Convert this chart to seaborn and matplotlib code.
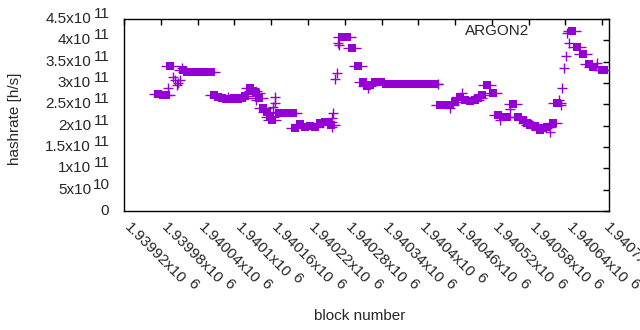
import numpy as np
import pandas as pd
import matplotlib
matplotlib.use("Agg")
import matplotlib.pyplot as plt
import seaborn as sns

# square samples: block number, hashrate in units of 1e11 h/s
sq_block = [1939975, 1939984, 1939988, 1939995, 1940016, 1940023, 1940031, 1940039,
            1940047, 1940055, 1940062, 1940067, 1940073, 1940080, 1940086, 1940093,
            1940099, 1940106, 1940113, 1940117, 1940126, 1940130, 1940135, 1940140,
            1940147, 1940153, 1940158, 1940161, 1940173, 1940181, 1940189, 1940196,
            1940199, 1940207, 1940215, 1940224, 1940232, 1940240, 1940248, 1940253,
            1940258, 1940276, 1940284, 1940292, 1940302, 1940310, 1940316, 1940321,
            1940330, 1940339, 1940348, 1940357, 1940367, 1940377, 1940387, 1940396,
            1940406, 1940416, 1940426, 1940436, 1940444, 1940452, 1940460, 1940468,
            1940476, 1940485, 1940493, 1940498, 1940504, 1940512, 1940522, 1940530,
            1940538, 1940545, 1940555, 1940563, 1940571, 1940578, 1940582, 1940591,
            1940599, 1940604, 1940610, 1940620, 1940627, 1940651, 1940659, 1940669,
            1940679, 1940685, 1940700, 1940703]
sq_rate = [2.742, 2.719, 2.719, 3.398, 3.304, 3.258, 3.258, 3.258,
           3.258, 3.258, 3.258, 2.719, 2.672, 2.648, 2.625, 2.625,
           2.648, 2.625, 2.648, 2.695, 2.883, 2.812, 2.765, 2.648,
           2.414, 2.320, 2.203, 2.133, 2.297, 2.297, 2.297, 2.297,
           1.945, 2.039, 1.969, 1.992, 1.969, 2.062, 2.086, 2.086,
           2.016, 4.078, 4.078, 3.820, 3.398, 3.023, 2.930, 2.953,
           3.023, 3.023, 2.976, 2.976, 2.976, 2.976, 2.976, 2.976,
           2.976, 2.976, 2.976, 2.484, 2.484, 2.484, 2.555, 2.672,
           2.601, 2.578, 2.601, 2.648, 2.719, 2.953, 2.765, 2.250,
           2.203, 2.203, 2.508, 2.203, 2.133, 2.062, 2.016, 1.992,
           1.898, 1.945, 1.969, 2.062, 2.531, 4.218, 3.844, 3.680,
           3.445, 3.375, 3.304, 3.304]

# plus samples
pl_block = [1939992, 1940000, 1940003, 1940006, 1940008, 1940011, 1940015, 1940090,
            1940135, 1940163, 1940166, 1940166, 1940259, 1940259, 1940261, 1940264,
            1940268, 1940269, 1940271, 1940318, 1940432, 1940452, 1940472, 1940534,
            1940550, 1940615, 1940630, 1940633, 1940635, 1940638, 1940641, 1940643,
            1940645, 1940692]
pl_rate = [2.883, 3.140, 3.070, 2.953, 3.000, 3.070, 3.351, 2.672,
           2.601, 2.437, 2.672, 2.531, 2.180, 1.969, 2.297, 3.094,
           3.234, 3.937, 3.890, 2.883, 2.976, 2.414, 2.765, 2.133,
           2.390, 1.851, 2.601, 2.484, 2.883, 3.351, 3.633, 4.172,
           3.937, 3.468]

x_ticks = [1939920 + 60 * i for i in range(14)]
y_ticks = [0, 0.5e11, 1e11, 1.5e11, 2e11, 2.5e11, 3e11, 3.5e11, 4e11, 4.5e11]
y_bases = ["0", "5x10", "1x10", "1.5x10", "2x10", "2.5x10", "3x10", "3.5x10", "4x10", "4.5x10"]
y_exps = ["", "10", "11", "11", "11", "11", "11", "11", "11", "11"]

sq = pd.DataFrame({"block": sq_block, "rate": np.array(sq_rate) * 1e11})
pl = pd.DataFrame({"block": pl_block, "rate": np.array(pl_rate) * 1e11})

sns.set_style("white")
plt.rcParams["font.family"] = ["Liberation Sans", "DejaVu Sans"]

color = "#9400D3"
fs = 11
fig = plt.figure(figsize=(6.4, 3.3), dpi=100)
ax = fig.add_axes([124 / 640, 1 - 211 / 330, 485 / 640, 192 / 330])

sns.scatterplot(data=sq, x="block", y="rate", marker="_", s=170, color=color,
                linewidth=1, ax=ax, zorder=3)
sns.scatterplot(data=sq, x="block", y="rate", marker="s", s=38, color=color,
                linewidth=0, ax=ax, zorder=3)
sns.scatterplot(data=pl, x="block", y="rate", marker="+", s=55, color=color,
                linewidth=1, ax=ax, zorder=3)

ax.set_xlim(1939920, 1940711)
ax.set_ylim(0, 4.5e11)
ax.set_xticks(x_ticks)
ax.set_xticklabels([])
ax.set_yticks(y_ticks)
ax.set_yticklabels([])
ax.tick_params(direction="in", length=4, width=1, colors="black", top=True, right=True)
for s in ax.spines.values():
    s.set_color("black")
    s.set_linewidth(1)
ax.set_xlabel("")
ax.set_ylabel("")

# gnuplot style labels: exponent raised but full size
for yv, base, ex in zip(y_ticks, y_bases, y_exps):
    if ex:
        ax.annotate(ex, xy=(0, yv), xycoords=("axes fraction", "data"), xytext=(-14, 5),
                    textcoords="offset pixels", ha="right", va="center", fontsize=fs)
        ax.annotate(base, xy=(0, yv), xycoords=("axes fraction", "data"), xytext=(-33, 0),
                    textcoords="offset pixels", ha="right", va="center", fontsize=fs)
    else:
        ax.annotate(base, xy=(0, yv), xycoords=("axes fraction", "data"), xytext=(-15, 0),
                    textcoords="offset pixels", ha="right", va="center", fontsize=fs)

renderer = fig.canvas.get_renderer()
c = np.cos(np.radians(45))
for xv in x_ticks:
    base = f"{xv / 1e6:.6g}x10"
    tmp = fig.text(0, 0, base, fontsize=fs)
    w = tmp.get_window_extent(renderer).width
    tmp.remove()
    ox, oy = 3, -14
    ax.annotate(base, xy=(xv, 0), xycoords=("data", "axes fraction"), xytext=(ox, oy),
                textcoords="offset pixels", ha="left", va="center", rotation=-45,
                rotation_mode="anchor", fontsize=fs, annotation_clip=False)
    d = w + 4
    up = 5
    ax.annotate("6", xy=(xv, 0), xycoords=("data", "axes fraction"),
                xytext=(ox + d * c + up * c, oy - d * c + up * c),
                textcoords="offset pixels", ha="left", va="center", rotation=-45,
                rotation_mode="anchor", fontsize=fs, annotation_clip=False)

fig.text(360 / 640, 1 - 316 / 330, "block number", fontsize=fs, ha="center", va="center")
fig.text(15.5 / 640, 1 - 119 / 330, "hashrate [h/s]", fontsize=fs, ha="center", va="center",
         rotation=90)
ax.text(0.703, 0.935, "ARGON2", transform=ax.transAxes, fontsize=fs,
        ha="left", va="center")

fig.savefig("out.png", dpi=100)
